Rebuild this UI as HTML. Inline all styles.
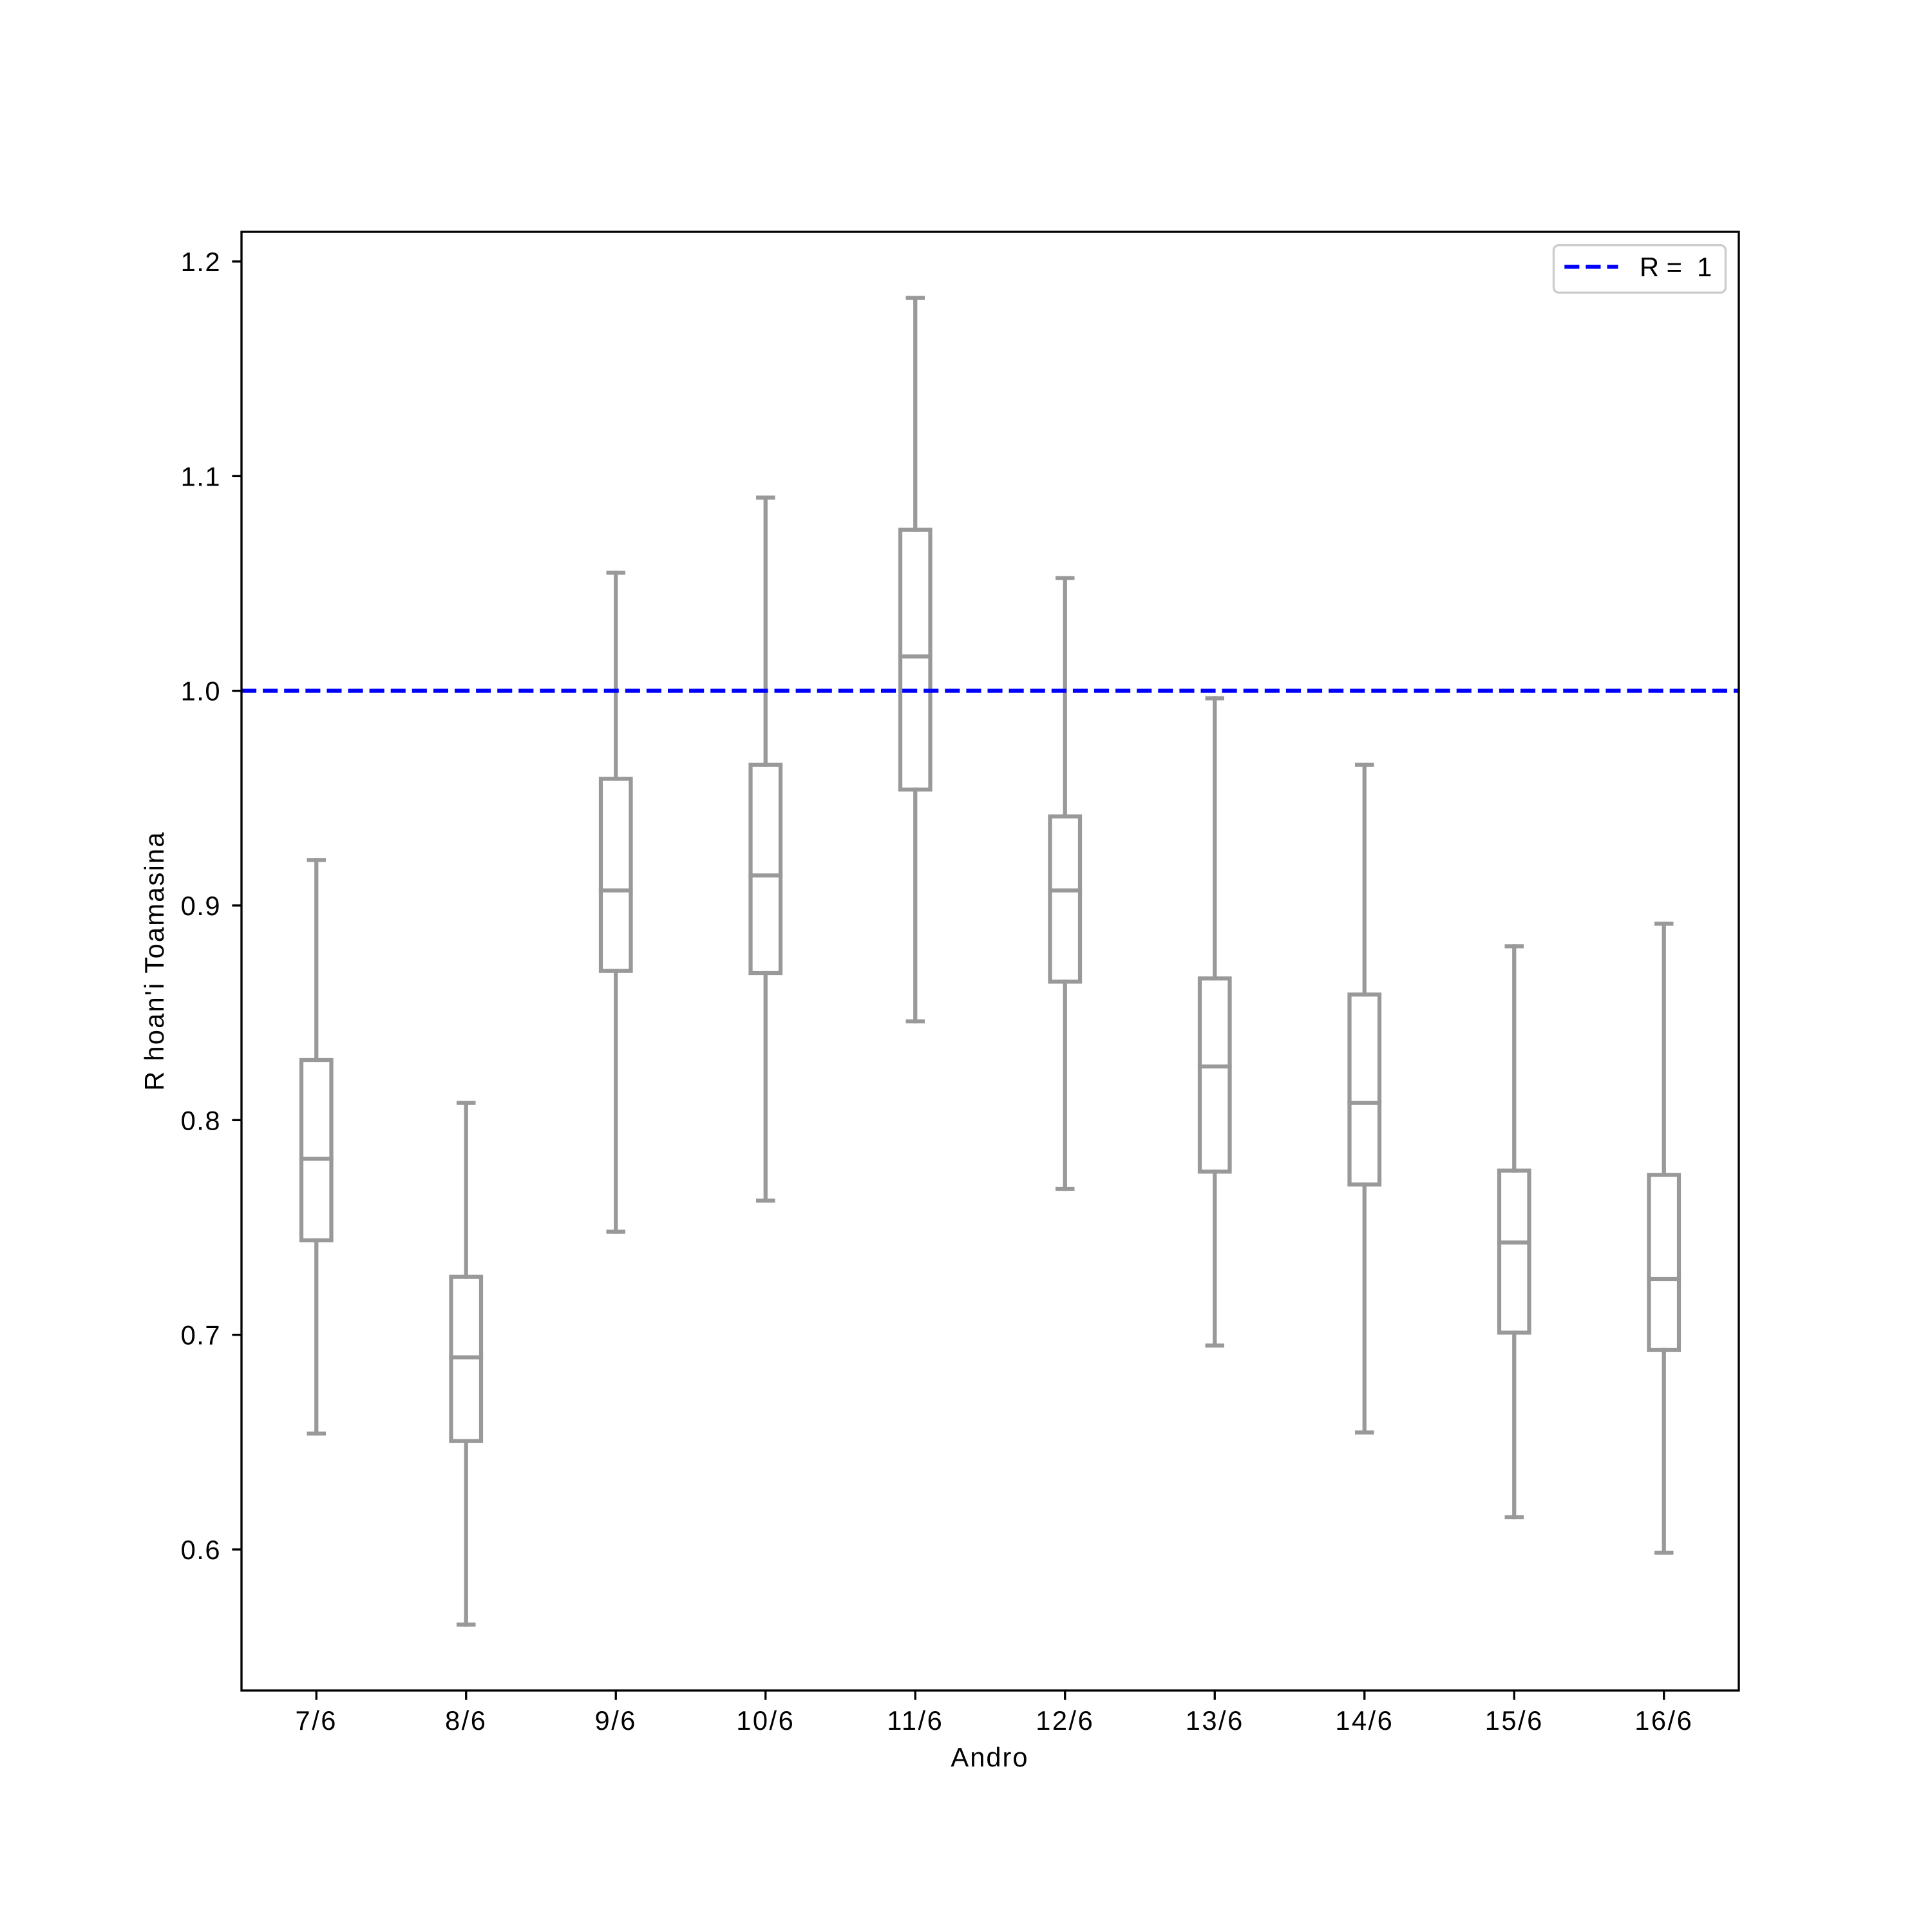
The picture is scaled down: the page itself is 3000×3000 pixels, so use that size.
<!DOCTYPE html>
<html lang="en">
<head>
<meta charset="utf-8">
<title>Boxplot of R hoan'i Toamasina by Andro</title>
<style>
  html, body { margin: 0; padding: 0; background: #ffffff; }
  body { width: 3000px; height: 3000px; overflow: hidden; }
  svg { display: block; }
  text { font-family: "Liberation Sans", Arial, sans-serif; font-size: 41.67px; fill: #000000; white-space: pre; }
</style>
</head>
<body>
<svg id="chart" xmlns="http://www.w3.org/2000/svg" width="3000" height="3000" viewBox="0 0 3000 3000">
  <rect x="0" y="0" width="3000" height="3000" fill="#ffffff"/>
  <g id="boxes"></g>
  <g id="ref-layer"></g>
  <rect x="375" y="360" width="2325" height="2265" fill="none" stroke="#000000" stroke-width="3.33"/>
  <g id="x-ticks"></g>
  <g id="y-ticks"></g>
  <text x="1537" y="2743" text-anchor="middle" letter-spacing="2">Andro</text>
  <text transform="translate(254,1492) rotate(-90)" text-anchor="middle" letter-spacing="2.2">R hoan'i Toamasina</text>
  <g>
    <rect x="2412.5" y="380.7" width="267" height="73.6" rx="8" ry="8" fill="#ffffff" fill-opacity="0.8" stroke="#cccccc" stroke-width="3.33"/>
    <line x1="2429.3" y1="414.3" x2="2512.6" y2="414.3" stroke="#0000ff" stroke-width="6.25" stroke-dasharray="23.1 10"/>
    <text x="2546" y="429">R =  1</text>
  </g>
</svg>
<script>
const categories = ["7/6","8/6","9/6","10/6","11/6","12/6","13/6","14/6","15/6","16/6"];
const whiskerHigh = [0.9212,0.808,1.055,1.090,1.183,1.0525,0.9965,0.9655,0.881,0.8915];
const boxQ3 = [0.828,0.727,0.959,0.9655,1.075,0.9415,0.866,0.8585,0.7765,0.7745];
const medians = [0.782,0.6895,0.907,0.914,1.016,0.907,0.825,0.808,0.743,0.726];
const boxQ1 = [0.744,0.6505,0.8695,0.8685,0.954,0.8645,0.776,0.770,0.701,0.693];
const whiskerLow = [0.654,0.565,0.748,0.7625,0.846,0.768,0.695,0.6545,0.615,0.5985];
const yTickValues = [0.6,0.7,0.8,0.9,1.0,1.1,1.2];
const yTickLabels = ["0.6","0.7","0.8","0.9","1.0","1.1","1.2"];
const referenceValue = 1;

const plotLeft = 375, plotRight = 2700, plotTop = 360, plotBottom = 2625;
const yMin = 0.5343, yMax = 1.2138;
const SVGNS = "http://www.w3.org/2000/svg";
const GREY = "#999999";

function xScale(i) {
  return plotLeft + (i + 0.5) * (plotRight - plotLeft) / categories.length;
}
function yScale(v) {
  return plotBottom - (v - yMin) / (yMax - yMin) * (plotBottom - plotTop);
}
function make(tag, attrs, parent) {
  const el = document.createElementNS(SVGNS, tag);
  for (const k in attrs) el.setAttribute(k, attrs[k]);
  parent.appendChild(el);
  return el;
}
function segment(parent, x1, y1, x2, y2) {
  return make("line", {x1: x1, y1: y1, x2: x2, y2: y2, stroke: GREY, "stroke-width": 6.25, "stroke-linecap": "square"}, parent);
}

const boxesLayer = document.getElementById("boxes");
const step = (plotRight - plotLeft) / categories.length;
categories.forEach(function (cat, i) {
  const cx = xScale(i);
  const boxHalf = step * 0.1;
  const capHalf = step * 0.05;
  const group = make("g", {}, boxesLayer);
  
  

  const upperWhisker = segment(group, cx, yScale(boxQ3[i]), cx, yScale(whiskerHigh[i]));
  
  

  const lowerWhisker = segment(group, cx, yScale(boxQ1[i]), cx, yScale(whiskerLow[i]));
  
  

  const upperCap = segment(group, cx - capHalf, yScale(whiskerHigh[i]), cx + capHalf, yScale(whiskerHigh[i]));
  
  

  const lowerCap = segment(group, cx - capHalf, yScale(whiskerLow[i]), cx + capHalf, yScale(whiskerLow[i]));
  
  

  const box = make("rect", {
    x: cx - boxHalf, y: yScale(boxQ3[i]), width: boxHalf * 2,
    height: yScale(boxQ1[i]) - yScale(boxQ3[i]),
    fill: "none", stroke: GREY, "stroke-width": 6.25
  }, group);
  
  

  const median = segment(group, cx - boxHalf, yScale(medians[i]), cx + boxHalf, yScale(medians[i]));
  
  
});

const refLayer = document.getElementById("ref-layer");
const refLine = make("line", {
  x1: plotLeft, x2: plotRight, y1: yScale(referenceValue), y2: yScale(referenceValue),
  stroke: "#0000ff", "stroke-width": 6.25, "stroke-dasharray": "23.1 10"
}, refLayer);



const xTicks = document.getElementById("x-ticks");
categories.forEach(function (cat, i) {
  const x = xScale(i);
  const tick = make("line", {x1: x, x2: x, y1: plotBottom, y2: plotBottom + 14.6, stroke: "#000000", "stroke-width": 3.33}, xTicks);
  
  
  const label = make("text", {x: x, y: 2686, "text-anchor": "middle", "letter-spacing": 2.5}, xTicks);
  
  
  label.textContent = cat;
});

const yTicks = document.getElementById("y-ticks");
yTickValues.forEach(function (v, i) {
  const y = yScale(v);
  const tick = make("line", {x1: plotLeft - 14.6, x2: plotLeft, y1: y, y2: y, stroke: "#000000", "stroke-width": 3.33}, yTicks);
  
  
  const label = make("text", {x: 343, y: y + 15, "text-anchor": "end", "letter-spacing": 1.5}, yTicks);
  
  
  label.textContent = yTickLabels[i];
});
</script>
</body>
</html>
